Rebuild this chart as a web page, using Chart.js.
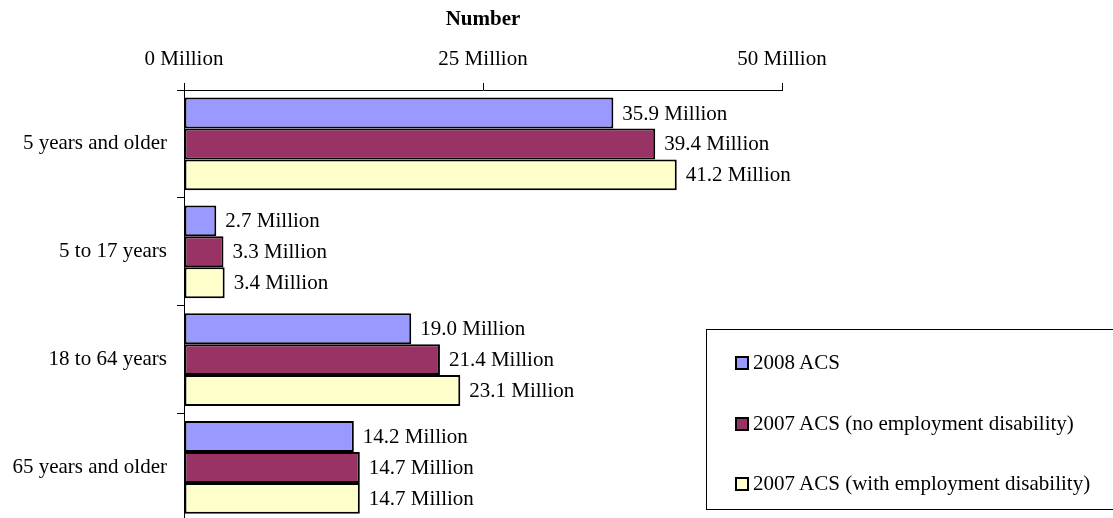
<!DOCTYPE html>
<html>
<head>
<meta charset="utf-8">
<script src="https://cdn.jsdelivr.net/npm/chart.js@4/dist/chart.umd.min.js"></script>
<style>
  html, body { margin: 0; padding: 0; background: #fff; overflow: hidden; }
  #wrap { position: relative; width: 1113px; height: 544px; }
  #legend {
    position: absolute; left: 706px; top: 329px; width: 420px; height: 181px;
    border: 1px solid #000; box-sizing: border-box;
    font-family: "Liberation Serif", "Times New Roman", serif; font-size: 21px; color: #000;
  }
  #legend .item { position: absolute; left: 28px; height: 24px; line-height: 24px; white-space: nowrap; }
  #legend .sw { display: inline-block; width: 10px; height: 10px; border: 2px solid #000; margin-right: 4px; vertical-align: -1px; }
</style>
</head>
<body>
<div id="wrap">
  <canvas id="chart" width="1113" height="544"></canvas>
  <div id="legend"></div>
</div>
<script>
const categories = ['5 years and older', '5 to 17 years', '18 to 64 years', '65 years and older'];
const seriesNames = ['2008 ACS', '2007 ACS (no employment disability)', '2007 ACS (with employment disability)'];
const acs2008 = [35.9, 2.7, 19.0, 14.2];
const acs2007NoEmp = [39.4, 3.3, 21.4, 14.7];
const acs2007WithEmp = [41.2, 3.4, 23.1, 14.7];
const seriesColors = ['#9999FF', '#993366', '#FFFFCC'];
const xTicks = [0, 25, 50];

const font = "'Liberation Serif', 'Times New Roman', serif";

// value labels right of each bar
const barLabels = {
    id: 'barLabels',
    afterDatasetsDraw(chart) {
        const ctx = chart.ctx;
        ctx.save();
        ctx.font = '21px ' + font;
        ctx.fillStyle = '#000';
        ctx.textBaseline = 'middle';
        chart.data.datasets.forEach((ds, i) => {
            chart.getDatasetMeta(i).data.forEach((bar, j) => {
                ctx.fillText(ds.data[j].toFixed(1) + ' Million', bar.x + 9, bar.y + 1);
            });
        });
        ctx.restore();
    }
};

const data = [acs2008, acs2007NoEmp, acs2007WithEmp];

const chart = new Chart(document.getElementById('chart'), {
    type: 'bar',
    data: {
        labels: categories,
        datasets: seriesNames.map((name, i) => ({
            label: name,
            data: data[i],
            backgroundColor: seriesColors[i],
            borderColor: '#000',
            borderWidth: 2,
            borderSkipped: false,
            barPercentage: 1,
            categoryPercentage: 0.86
        }))
    },
    options: {
        indexAxis: 'y',
        responsive: false,
        animation: false,
        layout: { padding: { top: 0, right: 331, bottom: 4, left: 0 } },
        plugins: {
            legend: { display: false },
            tooltip: { enabled: false }
        },
        scales: {
            x: {
                position: 'top',
                min: 0,
                max: 50,
                afterBuildTicks(scale) { scale.ticks = xTicks.map(v => ({ value: v })); },
                afterFit(scale) { scale.height = 90; },
                ticks: {
                    callback: v => v + ' Million',
                    color: '#000',
                    font: { family: font, size: 21 },
                    padding: 11,
                    maxRotation: 0
                },
                grid: { drawOnChartArea: false, tickLength: 7, color: '#000', lineWidth: 1 },
                border: { color: '#000', width: 1 },
                title: {
                    display: true,
                    text: 'Number',
                    color: '#000',
                    font: { family: font, size: 21, weight: 'bold' },
                    padding: { top: 7, bottom: 0 }
                }
            },
            y: {
                afterFit(scale) { scale.width = 184; },
                ticks: {
                    color: '#000',
                    font: { family: font, size: 21 },
                    padding: 10
                },
                grid: { offset: true, drawOnChartArea: false, tickLength: 7, color: '#000', lineWidth: 1 },
                border: { color: '#000', width: 1 }
            }
        }
    },
    plugins: [barLabels]
});

// legend built from the series arrays
const legendEl = document.getElementById('legend');
const rowTops = [20, 81, 141];
seriesNames.forEach((name, i) => {
    const item = document.createElement('div');
    item.className = 'item';
    item.style.top = rowTops[i] + 'px';
    item.innerHTML = '<span class="sw" style="background:' + seriesColors[i] + '"></span>' + name;
    legendEl.appendChild(item);
});
</script>
</body>
</html>
